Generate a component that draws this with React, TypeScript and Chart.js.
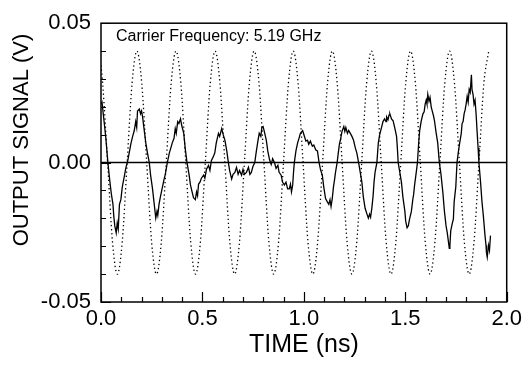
import React, { useEffect, useRef } from 'react';
import { Chart, registerables } from 'chart.js';

Chart.register(...registerables);

// Measured output signal (solid trace)
const solidTime = [
  0, 0.005, 0.01, 0.018, 0.024, 0.034, 0.044, 0.051, 0.059, 0.063, 0.068, 0.075, 0.08, 0.085, 0.091, 0.098,
  0.105, 0.116, 0.122, 0.132, 0.139, 0.148, 0.156, 0.164, 0.171, 0.176, 0.18, 0.189, 0.195, 0.2, 0.205, 0.212,
  0.221, 0.229, 0.238, 0.244, 0.254, 0.261, 0.27, 0.276, 0.28, 0.286, 0.293, 0.3, 0.311, 0.317, 0.322, 0.327,
  0.337, 0.344, 0.351, 0.36, 0.366, 0.371, 0.378, 0.384, 0.392, 0.398, 0.408, 0.415, 0.424, 0.434, 0.441, 0.449,
  0.456, 0.465, 0.471, 0.476, 0.481, 0.488, 0.495, 0.506, 0.512, 0.52, 0.53, 0.537, 0.544, 0.555, 0.561, 0.568,
  0.579, 0.585, 0.595, 0.602, 0.611, 0.62, 0.628, 0.634, 0.644, 0.651, 0.66, 0.668, 0.676, 0.683, 0.693, 0.7,
  0.707, 0.717, 0.727, 0.734, 0.741, 0.749, 0.758, 0.766, 0.774, 0.78, 0.788, 0.793, 0.799, 0.805, 0.815, 0.822,
  0.831, 0.839, 0.846, 0.855, 0.863, 0.872, 0.878, 0.888, 0.895, 0.904, 0.912, 0.92, 0.928, 0.934, 0.939, 0.945,
  0.949, 0.953, 0.961, 0.969, 0.976, 0.983, 0.994, 1.0, 1.01, 1.018, 1.024, 1.032, 1.042, 1.049, 1.059, 1.067,
  1.075, 1.083, 1.091, 1.098, 1.107, 1.115, 1.123, 1.129, 1.134, 1.14, 1.146, 1.151, 1.156, 1.164, 1.171, 1.176,
  1.18, 1.188, 1.197, 1.202, 1.207, 1.215, 1.221, 1.229, 1.237, 1.245, 1.254, 1.261, 1.27, 1.278, 1.286, 1.293,
  1.302, 1.31, 1.318, 1.324, 1.329, 1.335, 1.341, 1.346, 1.351, 1.36, 1.367, 1.373, 1.378, 1.384, 1.39, 1.398,
  1.405, 1.408, 1.415, 1.42, 1.424, 1.432, 1.44, 1.449, 1.457, 1.461, 1.465, 1.473, 1.481, 1.488, 1.498, 1.502,
  1.509, 1.515, 1.52, 1.53, 1.537, 1.541, 1.546, 1.554, 1.56, 1.566, 1.571, 1.578, 1.587, 1.593, 1.598, 1.603,
  1.607, 1.611, 1.617, 1.622, 1.628, 1.634, 1.639, 1.644, 1.651, 1.66, 1.668, 1.676, 1.685, 1.693, 1.701, 1.707,
  1.712, 1.717, 1.72, 1.724, 1.732, 1.737, 1.741, 1.749, 1.755, 1.761, 1.768, 1.776, 1.78, 1.785, 1.79, 1.795,
  1.8, 1.805, 1.81, 1.815, 1.82, 1.826, 1.829, 1.834, 1.839, 1.844, 1.849, 1.854, 1.859, 1.863, 1.871, 1.878,
  1.885, 1.893, 1.898, 1.9, 1.904, 1.91, 1.915, 1.92,
];
const solidVolt = [
  0.021, 0.0217, 0.0182, 0.0129, 0.0087, 0.0, -0.007, -0.0112, -0.015, -0.0192, -0.0227, -0.0252, -0.0217, -0.0238, -0.015, -0.0133,
  -0.0087, -0.0045, -0.0021, 0.0007, 0.0035, 0.007, 0.0094, 0.0115, 0.0147, 0.0126, 0.0185, 0.0192, 0.0175, 0.0185, 0.0164, 0.0122,
  0.007, 0.0035, 0.0, -0.0042, -0.0094, -0.014, -0.0199, -0.0175, -0.0189, -0.015, -0.0122, -0.0098, -0.0059, -0.0042, -0.0021, 0.0,
  0.0035, 0.0052, 0.007, 0.0087, 0.0122, 0.0105, 0.0147, 0.014, 0.0157, 0.0133, 0.0105, 0.0052, 0.0, -0.0042, -0.008, -0.0105,
  -0.0126, -0.0133, -0.0105, -0.0119, -0.0077, -0.007, -0.0056, -0.0045, -0.0056, -0.0024, -0.001, -0.0028, 0.0007, 0.0024, 0.0035, 0.007,
  0.0105, 0.0094, 0.0122, 0.0101, 0.008, 0.0042, 0.0, -0.0028, -0.0059, -0.0042, -0.0035, -0.0017, -0.0042, -0.0028, -0.0045, -0.0024,
  -0.0042, -0.0035, -0.0017, -0.0042, -0.0035, -0.0014, 0.0, 0.0042, 0.008, 0.0105, 0.0094, 0.0126, 0.0129, 0.0112, 0.008, 0.0042,
  0.001, -0.0007, 0.0014, 0.0, -0.0021, -0.001, -0.0035, -0.0045, -0.007, -0.008, -0.007, -0.0094, -0.0094, -0.0077, -0.0105, -0.008,
  -0.0035, 0.0, 0.0042, 0.007, 0.0087, 0.0105, 0.0115, 0.0101, 0.0077, 0.008, 0.0066, 0.0077, 0.0059, 0.0063, 0.0045, 0.0042,
  0.0, -0.0028, -0.0045, -0.0087, -0.0129, -0.014, -0.015, -0.0133, -0.0157, -0.0129, -0.0087, -0.0063, -0.0035, 0.0, 0.0042, 0.007,
  0.008, 0.0112, 0.0129, 0.0112, 0.0126, 0.0105, 0.0115, 0.0105, 0.0094, 0.008, 0.0052, 0.0035, 0.0, -0.0035, -0.007, -0.0122,
  -0.0164, -0.0182, -0.0199, -0.0185, -0.0196, -0.0164, -0.0122, -0.007, -0.0035, 0.0, 0.007, 0.0098, 0.0112, 0.0129, 0.0147, 0.0157,
  0.0147, 0.0164, 0.0154, 0.0171, 0.0175, 0.0157, 0.015, 0.0122, 0.0094, 0.0052, 0.0, -0.0035, -0.007, -0.0122, -0.0175, -0.021,
  -0.0234, -0.0227, -0.0206, -0.0175, -0.0133, -0.0115, -0.008, -0.0035, 0.0, 0.007, 0.0115, 0.0147, 0.0175, 0.0182, 0.021, 0.0224,
  0.021, 0.0245, 0.022, 0.0234, 0.0199, 0.0182, 0.0168, 0.015, 0.0112, 0.007, 0.0, -0.0042, -0.0105, -0.0175, -0.0227, -0.0252,
  -0.028, -0.0308, -0.0297, -0.0245, -0.0217, -0.0203, -0.014, -0.0087, 0.0, 0.0035, 0.007, 0.0105, 0.014, 0.0147, 0.0175, 0.0189,
  0.021, 0.0238, 0.0217, 0.0262, 0.0252, 0.0315, 0.0262, 0.0245, 0.021, 0.0224, 0.0175, 0.0112, 0.0052, 0.0, -0.007, -0.014,
  -0.0192, -0.0262, -0.0297, -0.0322, -0.0339, -0.0297, -0.0315, -0.0262,
];

// 5.19 GHz carrier reference (dotted trace)
const carrierTime = [
  0, 0.0084, 0.0325, 0.0566, 0.0807, 0.1048, 0.1289, 0.153, 0.177,
  0.2011, 0.2252, 0.2493, 0.2734, 0.2975, 0.3216, 0.3457, 0.3697,
  0.3938, 0.4179, 0.442, 0.4661, 0.4902, 0.5143, 0.5384, 0.5624,
  0.5865, 0.6106, 0.6347, 0.6588, 0.6829, 0.707, 0.7311, 0.7551,
  0.7792, 0.8033, 0.8274, 0.8515, 0.8756, 0.8997, 0.9238, 0.9478,
  0.9719, 0.996, 1.0201, 1.0442, 1.0683, 1.0924, 1.1165, 1.1405,
  1.1646, 1.1887, 1.2128, 1.2369, 1.261, 1.2851, 1.3092, 1.3332,
  1.3573, 1.3814, 1.4055, 1.4296, 1.4537, 1.4778, 1.5019, 1.5259,
  1.55, 1.5741, 1.5982, 1.6223, 1.6464, 1.6705, 1.6946, 1.7186,
  1.7427, 1.7668, 1.7909, 1.815, 1.8391, 1.8632, 1.8873, 1.9113,
];
const carrierVolt = [
  0.0349, 0.0283, 0, -0.0283, -0.04, -0.0283, 0, 0.0283, 0.04,
  0.0283, 0, -0.0283, -0.04, -0.0283, 0, 0.0283, 0.04,
  0.0283, 0, -0.0283, -0.04, -0.0283, 0, 0.0283, 0.04,
  0.0283, 0, -0.0283, -0.04, -0.0283, 0, 0.0283, 0.04,
  0.0283, 0, -0.0283, -0.04, -0.0283, 0, 0.0283, 0.04,
  0.0283, 0, -0.0283, -0.04, -0.0283, 0, 0.0283, 0.04,
  0.0283, 0, -0.0283, -0.04, -0.0283, 0, 0.0283, 0.04,
  0.0283, 0, -0.0283, -0.04, -0.0283, 0, 0.0283, 0.04,
  0.0283, 0, -0.0283, -0.04, -0.0283, 0, 0.0283, 0.04,
  0.0283, 0, -0.0283, -0.04, -0.0283, 0, 0.0283, 0.04,
];

const xTickValues = [0, 0.5, 1.0, 1.5, 2.0];
const yTickValues = [-0.05, 0, 0.05];
const xTitle = 'TIME (ns)';
const yTitle = 'OUTPUT SIGNAL (V)';
const noteText = 'Carrier Frequency: 5.19 GHz';

const FONT = '"Liberation Sans", Arial, Helvetica, sans-serif';

const decorPlugin = {
  id: 'decor',
  afterDatasetsDraw(chart: any) {
    const { ctx, chartArea: a, scales } = chart;
    const xs = scales.x;
    const ys = scales.y;
    ctx.save();
    ctx.strokeStyle = '#000';
    // zero line
    ctx.lineWidth = 1.5;
    const y0 = ys.getPixelForValue(0);
    ctx.beginPath();
    ctx.moveTo(a.left, y0);
    ctx.lineTo(a.right, y0);
    ctx.stroke();
    // inward tick marks
    ctx.lineWidth = 1.2;
    ctx.beginPath();
    for (let i = 0; i <= 20; i++) {
      const px = Math.round(xs.getPixelForValue(i * 0.1)) + 0.5;
      const len = i % 5 === 0 ? 10 : 5;
      ctx.moveTo(px, a.bottom);
      ctx.lineTo(px, a.bottom - len);
    }
    for (let i = -5; i <= 5; i++) {
      const py = Math.round(ys.getPixelForValue(i * 0.01)) + 0.5;
      const len = i % 5 === 0 ? 10 : 5;
      ctx.moveTo(a.left, py);
      ctx.lineTo(a.left + len, py);
    }
    ctx.stroke();
    // frame
    ctx.lineWidth = 1.5;
    ctx.strokeRect(a.left, a.top, a.right - a.left, a.bottom - a.top);
    // annotation
    ctx.fillStyle = '#000';
    ctx.font = `16px ${FONT}`;
    ctx.textAlign = 'left';
    ctx.textBaseline = 'alphabetic';
    ctx.fillText(noteText, a.left + 15, a.top + 18);
    // axis titles
    ctx.font = `25px ${FONT}`;
    ctx.textAlign = 'center';
    ctx.fillText(xTitle, (a.left + a.right) / 2, 352);
    ctx.save();
    ctx.translate(28, 140);
    ctx.rotate(-Math.PI / 2);
    ctx.font = `22px ${FONT}`;
    ctx.textAlign = 'center';
    ctx.fillText(yTitle, 0, 0);
    ctx.restore();
    ctx.restore();
  },
};

export default function App() {
  const ref = useRef<HTMLCanvasElement | null>(null);
  useEffect(() => {
    if (!ref.current) return;
    const chart = new Chart(ref.current, {
      type: 'line',
      data: {
        datasets: [
          {
            label: 'carrier',
            data: carrierTime.map((t, i) => ({ x: t, y: carrierVolt[i] })),
            borderColor: '#000',
            borderWidth: 1.3,
            borderDash: [1.3, 2.8],
            pointRadius: 0,
            cubicInterpolationMode: 'monotone',
            fill: false,
          },
          {
            label: 'signal',
            data: solidTime.map((t, i) => ({ x: t, y: solidVolt[i] })),
            borderColor: '#000',
            borderWidth: 1.3,
            pointRadius: 0,
            tension: 0,
            fill: false,
          },
        ],
      },
      options: {
        responsive: false,
        animation: false,
        layout: { autoPadding: false, padding: { left: 0, top: 17, right: 16, bottom: 0 } },
        plugins: { legend: { display: false }, tooltip: { enabled: false }, title: { display: false } },
        scales: {
          x: {
            type: 'linear',
            min: 0,
            max: 2,
            grid: { display: false, drawTicks: false },
            border: { display: false },
            afterFit: (s: any) => { s.height = 65; },
            afterBuildTicks: (s: any) => { s.ticks = xTickValues.map((v) => ({ value: v })); },
            ticks: {
              padding: 4,
              color: '#000',
              font: { family: FONT, size: 22 },
              maxRotation: 0,
              callback: (v: any) => Number(v).toFixed(1),
            },
          },
          y: {
            type: 'linear',
            min: -0.05,
            max: 0.05,
            grid: { display: false, drawTicks: false },
            border: { display: false },
            afterFit: (s: any) => { s.width = 101; },
            afterBuildTicks: (s: any) => { s.ticks = yTickValues.map((v) => ({ value: v })); },
            ticks: {
              padding: 10,
              color: '#000',
              font: { family: FONT, size: 22 },
              callback: (v: any) => Number(v).toFixed(2),
            },
          },
        },
      },
      plugins: [decorPlugin],
    });
    return () => chart.destroy();
  }, []);
  return (
    <div style={{ position: 'fixed', left: 0, top: 0, width: 526, height: 367, background: '#fff' }}>
      <canvas ref={ref} width={526} height={367} />
    </div>
  );
}
